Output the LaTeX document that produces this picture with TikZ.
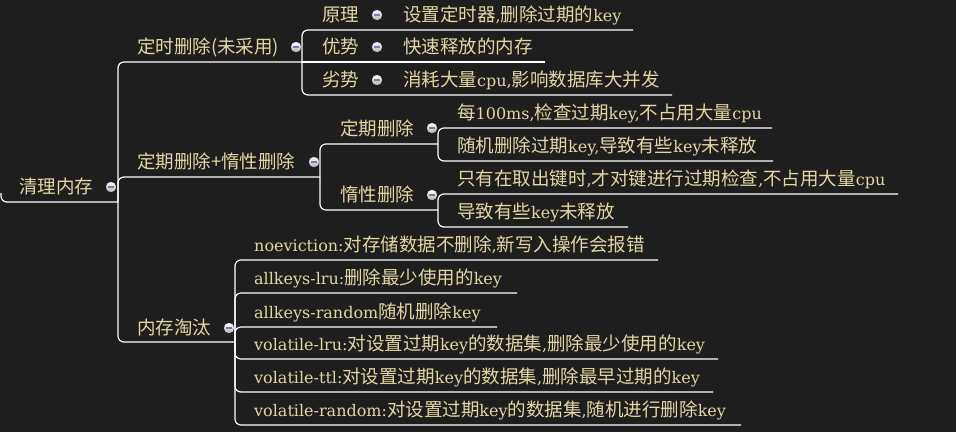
\documentclass[tikz,border=0pt]{standalone}
\usepackage{fontspec}
\setmainfont{Noto Sans CJK SC}
\newfontfamily\latf{DejaVu Serif}
\newcommand\lt[1]{{\latf\fontsize{16}{19}\selectfont #1}}
\definecolor{bg}{HTML}{1E1E1F}
\definecolor{txt}{HTML}{E3D6A2}
\definecolor{minusc}{HTML}{6C7FB5}
\tikzset{
  conn/.style={draw=white, line width=1.2pt, rounded corners=6pt},
  lbl/.style={anchor=base west, inner sep=0pt, text=txt, font={\fontsize{18.5}{21}\selectfont}},
  tog/.style={circle, minimum size=10pt, inner sep=0pt, top color=white, bottom color=black!30,
    draw=black!25, line width=0.3pt,
    path picture={\draw[minusc, line width=1.2pt]
      ([xshift=-2.6pt]path picture bounding box.center) -- ([xshift=2.6pt]path picture bounding box.center);}},
}
\begin{document}
\begin{tikzpicture}[x=1pt,y=-1pt]
\fill[bg] (0,0) rectangle (956,432);
\useasboundingbox (0,0) rectangle (956,432);

% ---- coordinates (underline ends)
\coordinate (r-s) at (1,193);
\coordinate (r-e) at (118,202);
\coordinate (A-e) at (302,62);
\coordinate (B-e) at (320,177);
\coordinate (C-e) at (235,342);
\coordinate (A1-e) at (633,30);
\coordinate (A2-e) at (545,62);
\coordinate (A3-e) at (672,95);
\coordinate (B1-e) at (438,144);
\coordinate (B2-e) at (438,210);
\coordinate (B11-e) at (772,128);
\coordinate (B12-e) at (773,161);
\coordinate (B21-e) at (898,194);
\coordinate (B22-e) at (628,227);
\coordinate (C1-e) at (658,260);
\coordinate (C2-e) at (517,293);
\coordinate (C3-e) at (497,327);
\coordinate (C4-e) at (718,359);
\coordinate (C5-e) at (713,392);
\coordinate (C6-e) at (741,425);

% ---- connectors
\draw[conn] (r-s) |- (r-e);
\draw[conn] (r-e) |- (A-e);
\draw[conn] (r-e) |- (B-e);
\draw[conn] (r-e) |- (C-e);
\draw[conn] (A-e) |- (A1-e);
\draw[conn] (A-e) -- (A2-e);
\draw[conn] (A-e) |- (A3-e);
\draw[conn] (B-e) |- (B1-e);
\draw[conn] (B-e) |- (B2-e);
\draw[conn] (B1-e) |- (B11-e);
\draw[conn] (B1-e) |- (B12-e);
\draw[conn] (B2-e) |- (B21-e);
\draw[conn] (B2-e) |- (B22-e);
\draw[conn] (C-e) |- (C1-e);
\draw[conn] (C-e) |- (C2-e);
\draw[conn] (C-e) |- (C3-e);
\draw[conn] (C-e) |- (C4-e);
\draw[conn] (C-e) |- (C5-e);
\draw[conn] (C-e) |- (C6-e);

% ---- topics
\node[lbl] (root) at (19,193) {清理内存};
\node[tog] (root-t) at (111,187) {};

\node[lbl] (A) at (137,53) {定时删除(未采用)};
\node[tog] (A-t) at (296,47) {};
\node[lbl] (B) at (137,168) {定期删除+惰性删除};
\node[tog] (B-t) at (314,162) {};
\node[lbl] (C) at (137,334) {内存淘汰};
\node[tog] (C-t) at (229,328) {};

\node[lbl] (A1) at (322,21) {原理};
\node[tog] (A1-t) at (377,15) {};
\node[lbl] (A1x) at (403,21) {设置定时器\lt{,}删除过期的\lt{key}};
\node[lbl] (A2) at (322,53) {优势};
\node[tog] (A2-t) at (377,47) {};
\node[lbl] (A2x) at (403,53) {快速释放的内存};
\node[lbl] (A3) at (322,86) {劣势};
\node[tog] (A3-t) at (377,80) {};
\node[lbl] (A3x) at (403,86) {消耗大量\lt{cpu,}影响数据库大并发};

\node[lbl] (B1) at (340,135) {定期删除};
\node[tog] (B1-t) at (432,128) {};
\node[lbl] (B11) at (457,119) {每\lt{100ms,}检查过期\lt{key,}不占用大量\lt{cpu}};
\node[lbl] (B12) at (457,152) {随机删除过期\lt{key,}导致有些\lt{key}未释放};
\node[lbl] (B2) at (340,201) {惰性删除};
\node[tog] (B2-t) at (432,195) {};
\node[lbl] (B21) at (457,185) {只有在取出键时\lt{,}才对键进行过期检查\lt{,}不占用大量\lt{cpu}};
\node[lbl] (B22) at (457,218) {导致有些\lt{key}未释放};

\node[lbl] (C1) at (254,251) {\lt{noeviction:}对存储数据不删除\lt{,}新写入操作会报错};
\node[lbl] (C2) at (254,284) {\lt{allkeys-lru:}删除最少使用的\lt{key}};
\node[lbl] (C3) at (254,318) {\lt{allkeys-random}随机删除\lt{key}};
\node[lbl] (C4) at (254,350) {\lt{volatile-lru:}对设置过期\lt{key}的数据集\lt{,}删除最少使用的\lt{key}};
\node[lbl] (C5) at (254,383) {\lt{volatile-ttl:}对设置过期\lt{key}的数据集\lt{,}删除最早过期的\lt{key}};
\node[lbl] (C6) at (254,416) {\lt{volatile-random:}对设置过期\lt{key}的数据集\lt{,}随机进行删除\lt{key}};
\end{tikzpicture}
\end{document}
